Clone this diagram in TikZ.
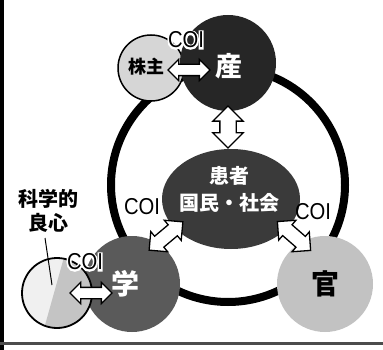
\documentclass[tikz,border=0pt]{standalone}
\usepackage{fontspec}
\setmainfont{Liberation Sans}
\newfontfamily\jp{Noto Sans CJK JP}
\newfontfamily\coifont{Liberation Sans}[FakeStretch=0.88]
\usetikzlibrary{shapes.arrows,shapes.geometric}
\definecolor{sanc}{HTML}{262626}
\definecolor{pubc}{HTML}{3A3A3A}
\definecolor{gakuc}{HTML}{5A5A5A}
\definecolor{kanc}{HTML}{C2C2C2}
\definecolor{kabuc}{HTML}{D6D6D6}
\definecolor{lightc}{HTML}{F0F0F0}
\definecolor{midc}{HTML}{C4C4C4}
\newcommand\coihalo[1]{\rlap{\color{white}\addfontfeature{FakeBold=14}#1}#1}
\begin{document}
\begin{tikzpicture}[x=1pt,y=-1pt,every node/.style={inner sep=0pt},
  dbl/.style={double arrow, draw=black, fill=white, line width=1.3pt, inner xsep=0pt, minimum width=1pt, double arrow head extend=#1},
  coi/.style={font=\coifont\fontsize{23}{24}\selectfont},
  jpw/.style={text=white, font=\jp\bfseries\fontsize{#1}{#1}\selectfont},
  jpb/.style={text=black, font=\jp\bfseries\fontsize{#1}{#1}\selectfont}]
\useasboundingbox (0,0) rectangle (383,350);
\fill[black] (0,0) rectangle (4,350);
\fill[black!70] (0,342) rectangle (383,345);
% ring
\draw[line width=8pt] (228,185) circle (117pt);
% circles
\node[circle, minimum size=66pt, fill=kabuc, draw=black, line width=1.5pt] (kabu) at (151,68) {};
\node[circle, minimum size=96pt, fill=sanc] (san) at (228,63) {};
\node[ellipse, minimum width=138pt, minimum height=100pt, fill=pubc] (pub) at (231,199) {};
\node[circle, minimum size=96pt, fill=gakuc] (gaku) at (132,284) {};
\node[circle, minimum size=96pt, fill=kanc] (kan) at (325,284) {};
\node[circle, minimum size=70pt, fill=lightc] (ryo) at (57,293) {};
\begin{scope}
\clip (57,293) circle (35pt);
\fill[midc] (66,250) -- (42,336) -- (100,336) -- (100,250) -- cycle;
\end{scope}
\draw[line width=1.8pt] (ryo) circle (35pt);
% arrows
\node[dbl=5pt, inner ysep=5pt, minimum height=42pt] (a1) at (189,70) {};
\node[dbl=7pt, inner ysep=7.5pt, minimum height=42pt, rotate=90] (a2) at (228,127) {};
\node[dbl=6pt, inner ysep=6.5pt, minimum height=44pt, rotate=40] (a3) at (166,236) {};
\node[dbl=6pt, inner ysep=6.5pt, minimum height=44pt, rotate=-41] (a4) at (294,236) {};
\node[dbl=5pt, inner ysep=5pt, minimum height=42pt] (a5) at (91,293) {};
% texts
\node[jpb=18] (kabut) at (146,67) {株主};
\node[jpw=27] (sant) at (229,66) {産};
\node[text=white, font=\jp\bfseries\fontsize{20}{27}\selectfont, align=center] (pubt) at (229,189) {患者\\国民・社会};
\node[jpw=28] (gakut) at (125,284) {学};
\node[jpb=28] (kant) at (325,284) {官};
\node[font=\jp\bfseries\fontsize{20}{24}\selectfont, align=center] (kst) at (48,211) {科学的\\良心};
\coordinate (ptr) at (52,285);
\draw[line width=1pt] (45,238) -- (ptr);
% COI labels
\node[coi] (coi1) at (186,40) {\coihalo{COI}};
\node[coi] (coi2) at (142,207) {COI};
\node[coi] (coi3) at (313,212) {COI};
\node[coi] (coi4) at (85,262) {\coihalo{COI}};
\end{tikzpicture}
\end{document}
